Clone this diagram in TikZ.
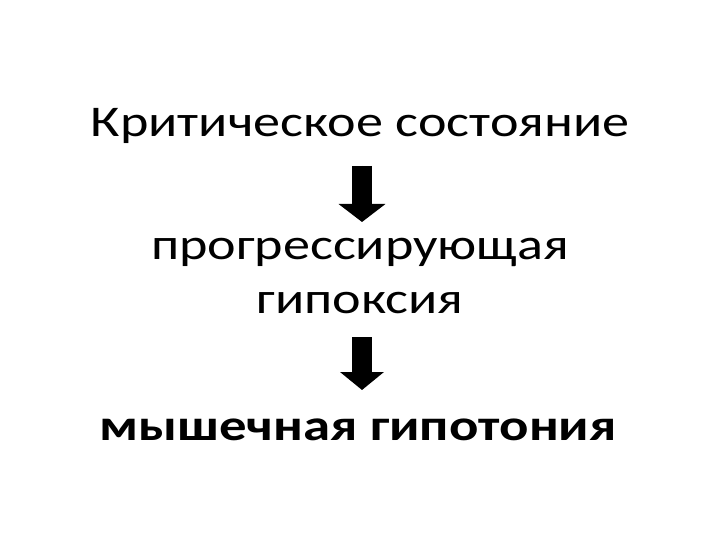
\documentclass[tikz,border=0pt]{standalone}
\usepackage{fontspec}
\setmainfont{Carlito}
\newfontfamily\widefont[FakeStretch=1.235]{Carlito}
\newfontfamily\widebold[FakeStretch=1.25,FakeBold=0]{Carlito Bold}
\usetikzlibrary{arrows.meta}
\tikzset{
  txt/.style={anchor=base, inner sep=0pt, font=\widefont\fontsize{44}{53}\selectfont},
  blockarrow/.style={line width=20bp, fill=black, -{Triangle[width=#1,length=18bp]}},
}
\begin{document}
\begin{tikzpicture}[x=1bp,y=-1bp]
\useasboundingbox (0,0) rectangle (720,540);
\node[txt] (l1) at (360,137) {Критическое состояние};
\node[txt] (l2) at (360,260) {прогрессирующая};
\node[txt] (l3) at (360,313) {гипоксия};
\node[txt, font=\widebold\fontsize{44}{53}\selectfont] (l4) at (358,440) {мышечная гипотония};
\coordinate (a1s) at (362,166);
\coordinate (a1e) at (362,222);
\coordinate (a2s) at (362,337);
\coordinate (a2e) at (362,390);
\draw[blockarrow=46bp] (a1s) -- (a1e);
\draw[blockarrow=43bp] (a2s) -- (a2e);
\end{tikzpicture}
\end{document}
